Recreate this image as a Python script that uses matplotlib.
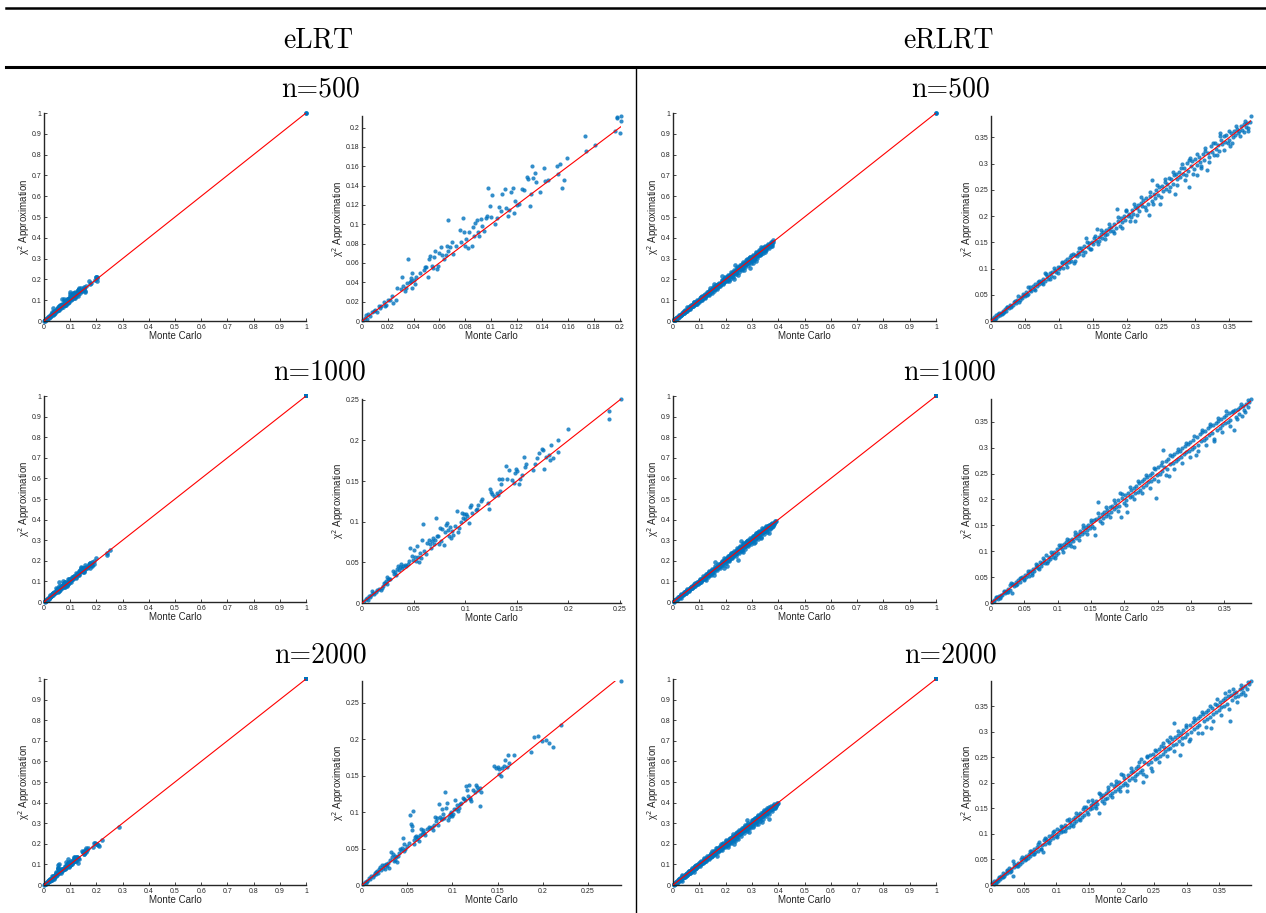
import numpy as np
import matplotlib.pyplot as plt
from matplotlib.ticker import MultipleLocator, FormatStrFormatter

plt.rcParams["font.family"] = ["Liberation Sans", "DejaVu Sans"]

# (Monte Carlo, chi^2 approximation) pairs
elrt_500 = [
    (0.001, 0.001), (0.002, 0.003), (0.003, 0.006), (0.004, 0.002), (0.005, 0.007), (0.006, 0.005),
    (0.008, 0.009), (0.009, 0.010), (0.010, 0.011), (0.012, 0.009), (0.013, 0.015), (0.014, 0.013),
    (0.015, 0.016), (0.017, 0.020), (0.018, 0.015), (0.019, 0.017), (0.020, 0.022), (0.022, 0.022),
    (0.023, 0.026), (0.024, 0.019), (0.026, 0.022), (0.027, 0.034), (0.030, 0.033), (0.031, 0.045),
    (0.032, 0.036), (0.033, 0.031), (0.034, 0.034), (0.035, 0.039), (0.036, 0.064), (0.037, 0.040),
    (0.038, 0.044), (0.038, 0.041), (0.039, 0.034), (0.039, 0.050), (0.040, 0.042), (0.041, 0.038),
    (0.042, 0.046), (0.045, 0.050), (0.048, 0.053), (0.049, 0.056), (0.050, 0.056), (0.051, 0.046),
    (0.052, 0.064), (0.053, 0.067), (0.054, 0.057), (0.055, 0.055), (0.056, 0.066), (0.057, 0.072),
    (0.058, 0.054), (0.059, 0.057), (0.060, 0.070), (0.061, 0.077), (0.062, 0.068), (0.064, 0.064),
    (0.065, 0.068), (0.066, 0.078), (0.067, 0.104), (0.067, 0.072), (0.068, 0.077), (0.070, 0.082),
    (0.071, 0.069), (0.073, 0.078), (0.076, 0.094), (0.077, 0.082), (0.078, 0.106), (0.079, 0.092),
    (0.080, 0.078), (0.081, 0.085), (0.082, 0.075), (0.083, 0.092), (0.085, 0.078), (0.086, 0.097),
    (0.087, 0.088), (0.088, 0.101), (0.089, 0.104), (0.090, 0.092), (0.091, 0.088), (0.092, 0.105),
    (0.093, 0.098), (0.095, 0.093), (0.096, 0.106), (0.097, 0.109), (0.098, 0.138), (0.099, 0.119),
    (0.100, 0.108), (0.101, 0.130), (0.103, 0.100), (0.105, 0.106), (0.106, 0.118), (0.108, 0.114),
    (0.109, 0.131), (0.111, 0.137), (0.112, 0.117), (0.113, 0.109), (0.114, 0.115), (0.116, 0.133),
    (0.117, 0.138), (0.118, 0.112), (0.119, 0.124), (0.120, 0.120), (0.122, 0.121), (0.124, 0.136),
    (0.126, 0.135), (0.128, 0.149), (0.129, 0.147), (0.130, 0.119), (0.131, 0.131), (0.132, 0.160),
    (0.133, 0.148), (0.134, 0.153), (0.135, 0.144), (0.138, 0.133), (0.141, 0.158), (0.142, 0.145),
    (0.144, 0.146), (0.151, 0.160), (0.152, 0.152), (0.154, 0.162), (0.155, 0.138), (0.157, 0.146),
    (0.159, 0.169), (0.173, 0.191), (0.174, 0.176), (0.181, 0.182), (0.196, 0.197), (0.198, 0.210),
    (0.198, 0.211), (0.2005, 0.194), (0.201, 0.212), (0.201, 0.207),
]

elrt_1000 = [
    (0.002, 0.002), (0.004, 0.005), (0.005, 0.006), (0.006, 0.004), (0.007, 0.008), (0.008, 0.007),
    (0.009, 0.010), (0.010, 0.015), (0.011, 0.012), (0.012, 0.011), (0.014, 0.014), (0.015, 0.016),
    (0.016, 0.017), (0.018, 0.016), (0.019, 0.019), (0.020, 0.021), (0.021, 0.024), (0.022, 0.025),
    (0.023, 0.027), (0.024, 0.023), (0.024, 0.032), (0.025, 0.030), (0.026, 0.029), (0.027, 0.030),
    (0.030, 0.039), (0.031, 0.036), (0.032, 0.038), (0.033, 0.035), (0.034, 0.042), (0.035, 0.046),
    (0.036, 0.040), (0.037, 0.044), (0.038, 0.048), (0.039, 0.043), (0.040, 0.046), (0.042, 0.047),
    (0.043, 0.045), (0.045, 0.048), (0.046, 0.052), (0.047, 0.068), (0.048, 0.058), (0.049, 0.053),
    (0.050, 0.065), (0.051, 0.056), (0.052, 0.052), (0.053, 0.070), (0.054, 0.057), (0.055, 0.050),
    (0.056, 0.062), (0.057, 0.055), (0.058, 0.077), (0.059, 0.097), (0.060, 0.064), (0.062, 0.060),
    (0.063, 0.074), (0.065, 0.077), (0.066, 0.072), (0.067, 0.068), (0.068, 0.076), (0.069, 0.080),
    (0.070, 0.073), (0.071, 0.078), (0.072, 0.104), (0.073, 0.083), (0.074, 0.082), (0.075, 0.072),
    (0.076, 0.092), (0.077, 0.076), (0.078, 0.091), (0.079, 0.071), (0.080, 0.087), (0.081, 0.096),
    (0.082, 0.099), (0.083, 0.090), (0.084, 0.082), (0.085, 0.094), (0.086, 0.080), (0.087, 0.088),
    (0.088, 0.084), (0.090, 0.095), (0.092, 0.113), (0.093, 0.087), (0.094, 0.092), (0.096, 0.100),
    (0.097, 0.111), (0.098, 0.104), (0.099, 0.109), (0.100, 0.103), (0.101, 0.110), (0.102, 0.107),
    (0.104, 0.098), (0.105, 0.118), (0.106, 0.121), (0.107, 0.111), (0.110, 0.114), (0.111, 0.116),
    (0.112, 0.120), (0.115, 0.125), (0.116, 0.128), (0.122, 0.123), (0.123, 0.116), (0.124, 0.140),
    (0.125, 0.137), (0.126, 0.134), (0.128, 0.132), (0.131, 0.135), (0.132, 0.133), (0.133, 0.152),
    (0.134, 0.138), (0.135, 0.146), (0.136, 0.153), (0.140, 0.169), (0.141, 0.152), (0.142, 0.164),
    (0.145, 0.151), (0.147, 0.148), (0.148, 0.160), (0.149, 0.165), (0.150, 0.163), (0.152, 0.146),
    (0.153, 0.152), (0.155, 0.158), (0.157, 0.180), (0.158, 0.167), (0.159, 0.171), (0.166, 0.164),
    (0.168, 0.171), (0.170, 0.179), (0.172, 0.184), (0.174, 0.190), (0.175, 0.188), (0.176, 0.165),
    (0.178, 0.180), (0.181, 0.182), (0.182, 0.176), (0.183, 0.194), (0.185, 0.178), (0.190, 0.200),
    (0.190, 0.186), (0.200, 0.214), (0.239, 0.236), (0.239, 0.227), (0.251, 0.251),
]

elrt_2000 = [
    (0.001, 0.001), (0.003, 0.004), (0.004, 0.003), (0.005, 0.006), (0.006, 0.005), (0.008, 0.009),
    (0.009, 0.008), (0.010, 0.012), (0.012, 0.011), (0.013, 0.014), (0.014, 0.016), (0.015, 0.018),
    (0.016, 0.015), (0.017, 0.019), (0.018, 0.017), (0.019, 0.022), (0.020, 0.025), (0.021, 0.020),
    (0.022, 0.027), (0.023, 0.024), (0.024, 0.028), (0.025, 0.022), (0.026, 0.029), (0.027, 0.027),
    (0.028, 0.026), (0.029, 0.030), (0.030, 0.024), (0.031, 0.035), (0.032, 0.045), (0.033, 0.038),
    (0.034, 0.042), (0.035, 0.033), (0.036, 0.040), (0.037, 0.035), (0.038, 0.038), (0.039, 0.031),
    (0.040, 0.040), (0.041, 0.044), (0.042, 0.050), (0.043, 0.048), (0.044, 0.051), (0.045, 0.065),
    (0.046, 0.046), (0.047, 0.056), (0.048, 0.050), (0.050, 0.054), (0.052, 0.057), (0.053, 0.096),
    (0.054, 0.084), (0.055, 0.081), (0.055, 0.076), (0.056, 0.101), (0.057, 0.062), (0.058, 0.056),
    (0.059, 0.066), (0.060, 0.067), (0.061, 0.063), (0.062, 0.066), (0.063, 0.060), (0.064, 0.069),
    (0.065, 0.077), (0.066, 0.070), (0.067, 0.073), (0.068, 0.076), (0.069, 0.071), (0.070, 0.068),
    (0.072, 0.077), (0.074, 0.080), (0.075, 0.078), (0.077, 0.079), (0.079, 0.076), (0.080, 0.083),
    (0.081, 0.094), (0.082, 0.088), (0.083, 0.092), (0.084, 0.082), (0.085, 0.111), (0.086, 0.094),
    (0.087, 0.090), (0.088, 0.104), (0.089, 0.091), (0.090, 0.098), (0.091, 0.092), (0.092, 0.128),
    (0.093, 0.106), (0.094, 0.113), (0.095, 0.089), (0.096, 0.093), (0.097, 0.098), (0.098, 0.100),
    (0.099, 0.096), (0.100, 0.095), (0.101, 0.097), (0.102, 0.105), (0.103, 0.117), (0.104, 0.104),
    (0.105, 0.110), (0.106, 0.101), (0.107, 0.106), (0.108, 0.111), (0.110, 0.113), (0.112, 0.120),
    (0.113, 0.118), (0.114, 0.116), (0.115, 0.136), (0.116, 0.130), (0.117, 0.122), (0.118, 0.137),
    (0.119, 0.120), (0.120, 0.118), (0.121, 0.115), (0.123, 0.130), (0.125, 0.128), (0.126, 0.137),
    (0.127, 0.134), (0.128, 0.131), (0.130, 0.108), (0.131, 0.133), (0.132, 0.127), (0.146, 0.163),
    (0.148, 0.160), (0.150, 0.162), (0.151, 0.152), (0.152, 0.159), (0.154, 0.149), (0.155, 0.160),
    (0.157, 0.163), (0.158, 0.171), (0.160, 0.162), (0.162, 0.179), (0.163, 0.168), (0.168, 0.179),
    (0.187, 0.183), (0.190, 0.203), (0.195, 0.205), (0.199, 0.198), (0.204, 0.199), (0.207, 0.195),
    (0.211, 0.190), (0.220, 0.219), (0.2865, 0.280),
]

erlrt_500 = [
    (0.002, 0.003), (0.004, 0.004), (0.005, 0.008), (0.007, 0.006), (0.008, 0.011), (0.010, 0.009),
    (0.011, 0.013), (0.013, 0.012), (0.014, 0.016), (0.016, 0.014), (0.017, 0.020), (0.019, 0.018),
    (0.021, 0.022), (0.022, 0.020), (0.024, 0.026), (0.026, 0.025), (0.028, 0.031), (0.030, 0.028),
    (0.032, 0.030), (0.034, 0.036), (0.036, 0.034), (0.038, 0.041), (0.040, 0.048), (0.042, 0.040),
    (0.044, 0.046), (0.046, 0.044), (0.048, 0.049), (0.050, 0.047), (0.052, 0.055), (0.054, 0.065),
    (0.055, 0.052), (0.057, 0.060), (0.059, 0.057), (0.061, 0.066), (0.063, 0.061), (0.065, 0.070),
    (0.067, 0.066), (0.069, 0.074), (0.071, 0.070), (0.073, 0.077), (0.075, 0.072), (0.077, 0.080),
    (0.079, 0.076), (0.080, 0.092), (0.082, 0.085), (0.084, 0.081), (0.086, 0.091), (0.088, 0.086),
    (0.090, 0.094), (0.092, 0.083), (0.094, 0.097), (0.096, 0.093), (0.098, 0.103), (0.100, 0.099),
    (0.102, 0.103), (0.104, 0.110), (0.106, 0.101), (0.108, 0.115), (0.110, 0.108), (0.112, 0.118),
    (0.114, 0.112), (0.116, 0.122), (0.118, 0.115), (0.120, 0.128), (0.122, 0.111), (0.124, 0.126),
    (0.126, 0.124), (0.128, 0.131), (0.130, 0.127), (0.132, 0.139), (0.134, 0.133), (0.136, 0.144),
    (0.138, 0.132), (0.140, 0.159), (0.142, 0.141), (0.144, 0.148), (0.146, 0.138), (0.148, 0.150),
    (0.150, 0.147), (0.152, 0.158), (0.154, 0.152), (0.156, 0.176), (0.158, 0.160), (0.159, 0.152),
    (0.161, 0.166), (0.163, 0.158), (0.165, 0.170), (0.167, 0.164), (0.169, 0.174), (0.171, 0.165),
    (0.173, 0.178), (0.175, 0.172), (0.177, 0.180), (0.179, 0.171), (0.181, 0.185), (0.183, 0.178),
    (0.185, 0.214), (0.187, 0.190), (0.189, 0.182), (0.191, 0.196), (0.193, 0.188), (0.195, 0.201),
    (0.197, 0.193), (0.199, 0.209), (0.201, 0.200), (0.203, 0.205), (0.205, 0.198), (0.207, 0.212),
    (0.209, 0.204), (0.211, 0.218), (0.212, 0.191), (0.214, 0.215), (0.216, 0.222), (0.218, 0.210),
    (0.220, 0.225), (0.222, 0.219), (0.224, 0.230), (0.226, 0.217), (0.228, 0.235), (0.230, 0.224),
    (0.232, 0.202), (0.234, 0.238), (0.236, 0.229), (0.237, 0.269), (0.239, 0.243), (0.241, 0.235),
    (0.243, 0.250), (0.245, 0.241), (0.247, 0.255), (0.249, 0.223), (0.251, 0.258), (0.253, 0.248),
    (0.255, 0.265), (0.257, 0.252), (0.259, 0.262), (0.261, 0.273), (0.263, 0.256), (0.265, 0.270),
    (0.267, 0.262), (0.269, 0.278), (0.270, 0.243), (0.272, 0.281), (0.274, 0.270), (0.276, 0.285),
    (0.278, 0.274), (0.280, 0.299), (0.282, 0.280), (0.284, 0.291), (0.286, 0.278), (0.288, 0.302),
    (0.290, 0.287), (0.291, 0.255), (0.292, 0.310), (0.294, 0.296), (0.296, 0.305), (0.298, 0.290),
    (0.300, 0.309), (0.302, 0.298), (0.303, 0.279), (0.305, 0.312), (0.307, 0.303), (0.309, 0.296),
    (0.311, 0.318), (0.313, 0.308), (0.315, 0.325), (0.317, 0.288), (0.319, 0.320), (0.321, 0.313),
    (0.323, 0.334), (0.325, 0.322), (0.327, 0.316), (0.329, 0.340), (0.331, 0.328), (0.333, 0.336),
    (0.335, 0.324), (0.336, 0.358), (0.338, 0.345), (0.340, 0.337), (0.342, 0.352), (0.344, 0.342),
    (0.346, 0.355), (0.348, 0.339), (0.350, 0.345), (0.351, 0.334), (0.353, 0.358), (0.355, 0.350),
    (0.357, 0.362), (0.359, 0.354), (0.361, 0.366), (0.363, 0.358), (0.365, 0.363), (0.367, 0.372),
    (0.369, 0.365), (0.371, 0.361), (0.372, 0.375), (0.374, 0.370), (0.376, 0.378), (0.378, 0.368),
    (0.380, 0.380), (0.382, 0.391),
]
# points at the edges of the eRLRT band
erlrt_500_edge = [
    (0.006, 0.004), (0.012, 0.015), (0.018, 0.016), (0.023, 0.027), (0.029, 0.027), (0.035, 0.039),
    (0.041, 0.037), (0.047, 0.052), (0.053, 0.049), (0.058, 0.064), (0.064, 0.059), (0.070, 0.077),
    (0.076, 0.070), (0.081, 0.089), (0.087, 0.081), (0.093, 0.101), (0.099, 0.091), (0.105, 0.113),
    (0.111, 0.103), (0.117, 0.126), (0.123, 0.114), (0.129, 0.139), (0.135, 0.126), (0.141, 0.151),
    (0.147, 0.137), (0.153, 0.163), (0.157, 0.146), (0.162, 0.173), (0.168, 0.156), (0.174, 0.185),
    (0.180, 0.168), (0.186, 0.198), (0.192, 0.178), (0.198, 0.212), (0.204, 0.190), (0.210, 0.223),
    (0.215, 0.203), (0.221, 0.236), (0.227, 0.212), (0.233, 0.246), (0.238, 0.224), (0.244, 0.259),
    (0.250, 0.236), (0.256, 0.270), (0.262, 0.247), (0.268, 0.284), (0.273, 0.259), (0.279, 0.292),
    (0.285, 0.268), (0.291, 0.307), (0.297, 0.281), (0.303, 0.318), (0.308, 0.291), (0.314, 0.330),
    (0.320, 0.303), (0.326, 0.340), (0.332, 0.316), (0.337, 0.352), (0.343, 0.327), (0.349, 0.362),
    (0.354, 0.340), (0.360, 0.371), (0.366, 0.352), (0.373, 0.381), (0.377, 0.362),
]

erlrt_1000 = [
    (0.002, 0.002), (0.004, 0.006), (0.005, 0.004), (0.007, 0.009), (0.009, 0.011), (0.010, 0.008),
    (0.012, 0.013), (0.014, 0.012), (0.015, 0.016), (0.017, 0.015), (0.019, 0.021), (0.021, 0.019),
    (0.022, 0.024), (0.024, 0.022), (0.026, 0.028), (0.028, 0.026), (0.029, 0.034), (0.030, 0.038),
    (0.032, 0.019), (0.033, 0.036), (0.035, 0.032), (0.037, 0.040), (0.039, 0.037), (0.041, 0.045),
    (0.043, 0.041), (0.045, 0.048), (0.047, 0.050), (0.049, 0.046), (0.051, 0.054), (0.053, 0.051),
    (0.055, 0.057), (0.057, 0.053), (0.059, 0.062), (0.061, 0.058), (0.063, 0.066), (0.065, 0.061),
    (0.067, 0.070), (0.069, 0.074), (0.071, 0.068), (0.073, 0.080), (0.075, 0.072), (0.077, 0.078),
    (0.079, 0.084), (0.081, 0.077), (0.083, 0.093), (0.085, 0.082), (0.087, 0.088), (0.089, 0.085),
    (0.091, 0.094), (0.093, 0.089), (0.095, 0.098), (0.097, 0.093), (0.099, 0.104), (0.101, 0.097),
    (0.103, 0.108), (0.105, 0.112), (0.107, 0.104), (0.109, 0.113), (0.111, 0.108), (0.113, 0.117),
    (0.115, 0.112), (0.117, 0.121), (0.119, 0.115), (0.121, 0.124), (0.123, 0.119), (0.124, 0.108),
    (0.126, 0.131), (0.128, 0.126), (0.130, 0.134), (0.132, 0.129), (0.134, 0.140), (0.136, 0.133),
    (0.138, 0.144), (0.140, 0.137), (0.142, 0.147), (0.144, 0.141), (0.146, 0.151), (0.148, 0.145),
    (0.150, 0.157), (0.152, 0.149), (0.154, 0.160), (0.156, 0.132), (0.158, 0.163), (0.160, 0.195),
    (0.162, 0.167), (0.164, 0.159), (0.166, 0.172), (0.168, 0.165), (0.170, 0.176), (0.172, 0.168),
    (0.174, 0.180), (0.176, 0.172), (0.178, 0.185), (0.180, 0.176), (0.182, 0.188), (0.184, 0.181),
    (0.186, 0.193), (0.188, 0.185), (0.190, 0.198), (0.192, 0.188), (0.194, 0.213), (0.195, 0.167),
    (0.197, 0.203), (0.199, 0.194), (0.201, 0.208), (0.203, 0.198), (0.204, 0.175), (0.206, 0.212),
    (0.208, 0.205), (0.210, 0.218), (0.212, 0.206), (0.214, 0.222), (0.216, 0.212), (0.218, 0.226),
    (0.220, 0.215), (0.222, 0.231), (0.224, 0.219), (0.226, 0.236), (0.228, 0.225), (0.230, 0.240),
    (0.232, 0.228), (0.234, 0.243), (0.236, 0.233), (0.238, 0.247), (0.240, 0.236), (0.242, 0.252),
    (0.244, 0.240), (0.246, 0.258), (0.247, 0.203), (0.249, 0.247), (0.251, 0.262), (0.253, 0.250),
    (0.255, 0.266), (0.257, 0.254), (0.258, 0.295), (0.260, 0.262), (0.262, 0.274), (0.264, 0.258),
    (0.266, 0.279), (0.267, 0.245), (0.269, 0.268), (0.271, 0.283), (0.273, 0.270), (0.275, 0.287),
    (0.277, 0.275), (0.279, 0.291), (0.281, 0.279), (0.283, 0.294), (0.285, 0.282), (0.287, 0.299),
    (0.289, 0.287), (0.291, 0.303), (0.293, 0.291), (0.295, 0.307), (0.297, 0.294), (0.299, 0.311),
    (0.301, 0.298), (0.303, 0.315), (0.305, 0.302), (0.307, 0.286), (0.309, 0.321), (0.311, 0.306),
    (0.313, 0.326), (0.315, 0.312), (0.317, 0.330), (0.319, 0.315), (0.321, 0.333), (0.323, 0.319),
    (0.325, 0.338), (0.327, 0.324), (0.329, 0.341), (0.331, 0.328), (0.333, 0.344), (0.335, 0.313),
    (0.337, 0.347), (0.339, 0.334), (0.341, 0.352), (0.343, 0.338), (0.345, 0.356), (0.347, 0.343),
    (0.349, 0.359), (0.351, 0.347), (0.353, 0.363), (0.355, 0.350), (0.357, 0.366), (0.359, 0.354),
    (0.361, 0.369), (0.364, 0.334), (0.366, 0.372), (0.368, 0.360), (0.370, 0.374), (0.372, 0.365),
    (0.374, 0.378), (0.376, 0.362), (0.378, 0.380), (0.380, 0.372), (0.383, 0.385), (0.385, 0.378),
    (0.387, 0.389), (0.390, 0.394),
]
erlrt_1000_edge = [
    (0.008, 0.011), (0.013, 0.010), (0.019, 0.023), (0.025, 0.022), (0.031, 0.036), (0.037, 0.034),
    (0.043, 0.049), (0.049, 0.044), (0.055, 0.062), (0.061, 0.055), (0.067, 0.075), (0.072, 0.066),
    (0.078, 0.087), (0.084, 0.077), (0.090, 0.099), (0.096, 0.087), (0.102, 0.112), (0.108, 0.099),
    (0.114, 0.124), (0.120, 0.110), (0.126, 0.137), (0.132, 0.121), (0.138, 0.150), (0.144, 0.133),
    (0.150, 0.161), (0.155, 0.144), (0.161, 0.174), (0.167, 0.154), (0.173, 0.186), (0.179, 0.166),
    (0.185, 0.199), (0.191, 0.178), (0.197, 0.211), (0.203, 0.190), (0.209, 0.224), (0.214, 0.201),
    (0.220, 0.236), (0.226, 0.212), (0.232, 0.248), (0.238, 0.223), (0.244, 0.260), (0.250, 0.236),
    (0.256, 0.272), (0.262, 0.247), (0.268, 0.285), (0.274, 0.258), (0.280, 0.297), (0.286, 0.270),
    (0.292, 0.309), (0.298, 0.282), (0.304, 0.322), (0.310, 0.293), (0.316, 0.334), (0.322, 0.305),
    (0.328, 0.346), (0.334, 0.317), (0.340, 0.358), (0.346, 0.330), (0.352, 0.370), (0.358, 0.342),
    (0.363, 0.370), (0.369, 0.355), (0.375, 0.385), (0.381, 0.368), (0.386, 0.392),
]

erlrt_2000 = [
    (0.002, 0.003), (0.004, 0.002), (0.005, 0.007), (0.007, 0.006), (0.009, 0.010), (0.010, 0.008),
    (0.012, 0.014), (0.014, 0.011), (0.015, 0.017), (0.017, 0.015), (0.019, 0.024), (0.020, 0.018),
    (0.022, 0.021), (0.024, 0.027), (0.025, 0.023), (0.027, 0.034), (0.029, 0.026), (0.031, 0.032),
    (0.033, 0.018), (0.034, 0.047), (0.036, 0.035), (0.038, 0.040), (0.040, 0.037), (0.042, 0.044),
    (0.044, 0.041), (0.046, 0.050), (0.048, 0.045), (0.050, 0.053), (0.052, 0.049), (0.054, 0.057),
    (0.056, 0.052), (0.058, 0.061), (0.060, 0.056), (0.062, 0.066), (0.064, 0.060), (0.066, 0.070),
    (0.068, 0.064), (0.070, 0.075), (0.072, 0.067), (0.074, 0.084), (0.076, 0.071), (0.078, 0.079),
    (0.079, 0.065), (0.081, 0.088), (0.083, 0.080), (0.085, 0.090), (0.087, 0.084), (0.089, 0.095),
    (0.091, 0.088), (0.093, 0.098), (0.095, 0.092), (0.097, 0.106), (0.099, 0.096), (0.101, 0.110),
    (0.103, 0.100), (0.105, 0.108), (0.107, 0.103), (0.109, 0.114), (0.111, 0.106), (0.113, 0.117),
    (0.115, 0.111), (0.117, 0.127), (0.119, 0.114), (0.121, 0.123), (0.123, 0.118), (0.125, 0.130),
    (0.127, 0.122), (0.129, 0.133), (0.131, 0.126), (0.133, 0.137), (0.135, 0.130), (0.137, 0.141),
    (0.139, 0.134), (0.141, 0.148), (0.143, 0.137), (0.145, 0.152), (0.147, 0.143), (0.149, 0.165),
    (0.151, 0.148), (0.153, 0.157), (0.155, 0.151), (0.157, 0.160), (0.159, 0.154), (0.161, 0.165),
    (0.163, 0.158), (0.165, 0.181), (0.166, 0.140), (0.168, 0.172), (0.170, 0.165), (0.172, 0.177),
    (0.174, 0.168), (0.176, 0.181), (0.178, 0.171), (0.180, 0.186), (0.182, 0.176), (0.184, 0.197),
    (0.186, 0.180), (0.188, 0.193), (0.190, 0.184), (0.192, 0.197), (0.194, 0.188), (0.196, 0.201),
    (0.198, 0.192), (0.200, 0.218), (0.202, 0.196), (0.204, 0.209), (0.206, 0.200), (0.208, 0.183),
    (0.210, 0.215), (0.212, 0.206), (0.214, 0.222), (0.216, 0.209), (0.218, 0.224), (0.220, 0.213),
    (0.222, 0.229), (0.224, 0.218), (0.226, 0.233), (0.228, 0.222), (0.230, 0.247), (0.231, 0.226),
    (0.233, 0.201), (0.235, 0.241), (0.237, 0.214), (0.239, 0.250), (0.241, 0.236), (0.243, 0.255),
    (0.245, 0.240), (0.247, 0.224), (0.249, 0.257), (0.251, 0.246), (0.253, 0.262), (0.255, 0.249),
    (0.257, 0.266), (0.259, 0.253), (0.261, 0.272), (0.263, 0.257), (0.265, 0.270), (0.267, 0.262),
    (0.269, 0.283), (0.271, 0.266), (0.273, 0.280), (0.275, 0.269), (0.277, 0.285), (0.279, 0.273),
    (0.280, 0.317), (0.282, 0.289), (0.284, 0.276), (0.286, 0.293), (0.288, 0.282), (0.289, 0.255),
    (0.291, 0.298), (0.293, 0.287), (0.295, 0.303), (0.297, 0.290), (0.299, 0.309), (0.301, 0.295),
    (0.303, 0.281), (0.305, 0.314), (0.307, 0.300), (0.309, 0.318), (0.311, 0.305), (0.313, 0.322),
    (0.315, 0.310), (0.317, 0.327), (0.319, 0.313), (0.321, 0.330), (0.323, 0.298), (0.325, 0.334),
    (0.327, 0.320), (0.329, 0.338), (0.331, 0.324), (0.333, 0.342), (0.335, 0.328), (0.337, 0.307),
    (0.339, 0.346), (0.341, 0.334), (0.343, 0.355), (0.345, 0.339), (0.347, 0.352), (0.349, 0.343),
    (0.351, 0.358), (0.353, 0.348), (0.355, 0.362), (0.357, 0.350), (0.359, 0.366), (0.361, 0.355),
    (0.363, 0.369), (0.365, 0.379), (0.366, 0.321), (0.368, 0.372), (0.370, 0.362), (0.372, 0.375),
    (0.374, 0.367), (0.376, 0.378), (0.378, 0.370), (0.381, 0.383), (0.383, 0.374), (0.385, 0.386),
    (0.387, 0.378), (0.390, 0.389), (0.392, 0.383), (0.395, 0.393), (0.3985, 0.3992),
]
erlrt_2000_edge = [
    (0.007, 0.004), (0.013, 0.016), (0.018, 0.015), (0.024, 0.029), (0.030, 0.027), (0.036, 0.042),
    (0.042, 0.038), (0.048, 0.054), (0.054, 0.050), (0.060, 0.067), (0.066, 0.060), (0.072, 0.080),
    (0.077, 0.071), (0.083, 0.092), (0.089, 0.082), (0.095, 0.104), (0.101, 0.094), (0.107, 0.116),
    (0.113, 0.105), (0.119, 0.129), (0.125, 0.116), (0.131, 0.141), (0.137, 0.127), (0.143, 0.153),
    (0.149, 0.139), (0.155, 0.166), (0.161, 0.150), (0.167, 0.178), (0.173, 0.161), (0.179, 0.191),
    (0.185, 0.172), (0.191, 0.203), (0.197, 0.184), (0.203, 0.216), (0.209, 0.195), (0.215, 0.228),
    (0.221, 0.206), (0.227, 0.240), (0.233, 0.218), (0.239, 0.253), (0.245, 0.229), (0.251, 0.265),
    (0.257, 0.240), (0.263, 0.277), (0.269, 0.252), (0.275, 0.290), (0.281, 0.263), (0.287, 0.302),
    (0.293, 0.275), (0.299, 0.314), (0.305, 0.286), (0.311, 0.327), (0.317, 0.298), (0.323, 0.339),
    (0.329, 0.309), (0.335, 0.351), (0.341, 0.321), (0.347, 0.363), (0.353, 0.333), (0.359, 0.375),
    (0.365, 0.345), (0.371, 0.384), (0.377, 0.358), (0.383, 0.391), (0.389, 0.372), (0.394, 0.398),
]

# extra point at (1, 1) shown only in the full-range panels
corner_point = (1.0, 1.0)

methods = ["eLRT", "eRLRT"]
sizes = ["n=500", "n=1000", "n=2000"]
datasets = [[elrt_500, erlrt_500 + erlrt_500_edge],
            [elrt_1000, erlrt_1000 + erlrt_1000_edge],
            [elrt_2000, erlrt_2000 + erlrt_2000_edge]]
zoom_steps = [[0.02, 0.05], [0.05, 0.05], [0.05, 0.05]]

W, H = 1266, 913
fig = plt.figure(figsize=(W / 100, H / 100), dpi=100)
blue = "#0072BD"
grey = "#262626"


def px_box(x0, y0, x1, y1):
    return [x0 / W, 1 - y1 / H, (x1 - x0) / W, (y1 - y0) / H]


def style(ax, step):
    ax.spines["top"].set_visible(False)
    ax.spines["right"].set_visible(False)
    for s in ["left", "bottom"]:
        ax.spines[s].set_linewidth(1.0)
        ax.spines[s].set_color(grey)
    ax.tick_params(direction="in", length=2.5, width=0.6, labelsize=5,
                   colors=grey, pad=2)
    ax.xaxis.set_major_locator(MultipleLocator(step))
    ax.yaxis.set_major_locator(MultipleLocator(step))
    ax.xaxis.set_major_formatter(FormatStrFormatter("%g"))
    ax.yaxis.set_major_formatter(FormatStrFormatter("%g"))
    ax.set_xlabel("Monte Carlo", fontsize=7, color=grey, labelpad=0.5)
    ax.set_ylabel("\u03c7$^{2}$ Approximation", fontsize=7, color=grey, labelpad=-0.5)


col_left = [(44, 306), (673, 936)]
col_right = [(362, 621), (991, 1251)]
row_left = [(113, 321), (396, 602), (679, 885)]
row_right = [(116, 321), (399, 603), (681, 885)]

for r in range(3):
    for c in range(2):
        pts = np.array(datasets[r][c])
        mc, chi = pts[:, 0], pts[:, 1]
        corner_marker = "o" if r == 0 else "s"

        # full range panel
        ax = fig.add_axes(px_box(col_left[c][0], row_left[r][0], col_left[c][1], row_left[r][1]))
        ax.scatter(mc, chi, s=11, color=blue, alpha=0.8, linewidths=0, clip_on=False, zorder=2)
        ax.scatter([corner_point[0]], [corner_point[1]], s=12, marker=corner_marker,
                   color=blue, linewidths=0, clip_on=False, zorder=2)
        ax.plot([0, corner_point[0]], [0, corner_point[1]], color="red", lw=0.8, zorder=3)
        ax.set_xlim(0, 1)
        ax.set_ylim(0, 1)
        style(ax, 0.1)

        # zoomed panel
        ax = fig.add_axes(px_box(col_right[c][0], row_right[r][0], col_right[c][1], row_right[r][1]))
        ax.scatter(mc, chi, s=9, color=blue, alpha=0.8, linewidths=0, clip_on=False, zorder=2)
        m = min(mc.max(), chi.max())
        ax.plot([0, m], [0, m], color="red", lw=0.8, zorder=3)
        ax.set_xlim(0, mc.max())
        ax.set_ylim(0, chi.max())
        style(ax, zoom_steps[r][c])

# table frame and headings
over = fig.add_axes([0, 0, 1, 1])
over.set_xlim(0, W)
over.set_ylim(H, 0)
over.axis("off")
over.plot([6, W], [8, 8], color="black", lw=1.8)
over.plot([6, W], [67, 67], color="black", lw=2.2)
over.plot([636, 636], [67, H], color="black", lw=1.0)

head_x = [318, 948]
for c, name in enumerate(methods):
    over.text(head_x[c], 40, name, ha="center", va="center",
              fontsize=20, family="cmr10")
title_y = [89, 372, 655]
for r, lab in enumerate(sizes):
    for c in range(2):
        over.text(head_x[c] + 2, title_y[r], lab, ha="center", va="center",
                  fontsize=20, family="cmr10")

fig.savefig("out.png", dpi=100)
